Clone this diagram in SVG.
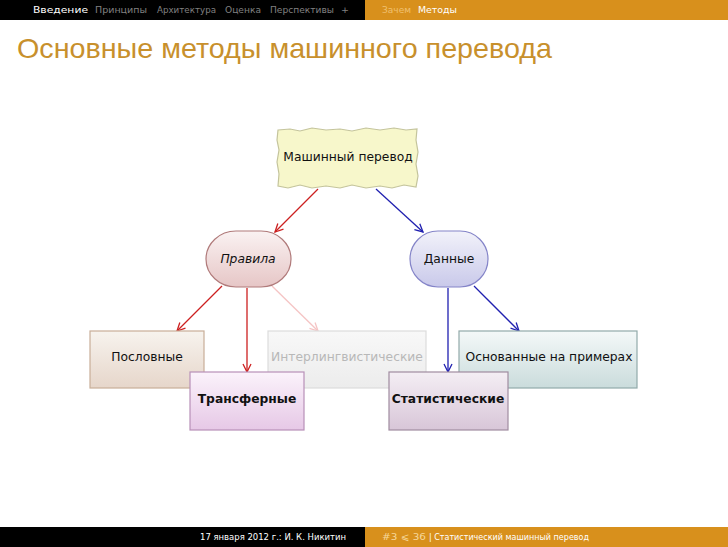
<svg xmlns="http://www.w3.org/2000/svg" width="728" height="547" viewBox="0 0 728 547">
<defs>
<style>
.hd{font-family:"DejaVu Sans","Liberation Sans",sans-serif;font-size:9.5px}
.lbl{font-family:"DejaVu Sans","Liberation Sans",sans-serif;font-size:12.3px;fill:#111;text-anchor:middle}
.b{font-weight:bold}
.red{stroke:#CC2020;fill:none;stroke-width:1.3}
.blue{stroke:#2020B0;fill:none;stroke-width:1.3}
.pale{stroke:#F5C4C4;fill:none;stroke-width:1.3}
</style>
<linearGradient id="gPr" x1="0" y1="0" x2="0" y2="1"><stop offset="0" stop-color="#FAF2F2"/><stop offset="1" stop-color="#E6C6C6"/></linearGradient>
<linearGradient id="gDa" x1="0" y1="0" x2="0" y2="1"><stop offset="0" stop-color="#F2F2FA"/><stop offset="1" stop-color="#C9C9EA"/></linearGradient>
<linearGradient id="gPo" x1="0" y1="0" x2="0" y2="1"><stop offset="0" stop-color="#F7F3EE"/><stop offset="1" stop-color="#E6D6CA"/></linearGradient>
<linearGradient id="gIn" x1="0" y1="0" x2="0" y2="1"><stop offset="0" stop-color="#F8F8F8"/><stop offset="1" stop-color="#ECECEC"/></linearGradient>
<linearGradient id="gOs" x1="0" y1="0" x2="0" y2="1"><stop offset="0" stop-color="#F4F8F8"/><stop offset="1" stop-color="#CADCDC"/></linearGradient>
<linearGradient id="gTr" x1="0" y1="0" x2="0" y2="1"><stop offset="0" stop-color="#FBF3FB"/><stop offset="1" stop-color="#E6C8E6"/></linearGradient>
<linearGradient id="gSt" x1="0" y1="0" x2="0" y2="1"><stop offset="0" stop-color="#F4EEF4"/><stop offset="1" stop-color="#D8C6D8"/></linearGradient>
<marker id="aR" markerWidth="10" markerHeight="10" refX="9" refY="5" orient="auto" markerUnits="userSpaceOnUse"><path d="M1,1 L9,5 L1,9" fill="none" stroke="#CC2020" stroke-width="1.3"/></marker>
<marker id="aB" markerWidth="10" markerHeight="10" refX="9" refY="5" orient="auto" markerUnits="userSpaceOnUse"><path d="M1,1 L9,5 L1,9" fill="none" stroke="#2020B0" stroke-width="1.3"/></marker>
<marker id="aP" markerWidth="10" markerHeight="10" refX="9" refY="5" orient="auto" markerUnits="userSpaceOnUse"><path d="M1,1 L9,5 L1,9" fill="none" stroke="#F5C4C4" stroke-width="1.3"/></marker>
</defs>
<rect width="728" height="547" fill="#FFFFFF"/>
<g id="header">
<rect x="0" y="0" width="365" height="20" fill="#000"/>
<rect x="365" y="0" width="363" height="20" fill="#D8901C"/>
<text class="hd" x="33" y="13" fill="#FFF" textLength="55" lengthAdjust="spacingAndGlyphs">Введение</text>
<text class="hd" x="95" y="13" fill="#808080" textLength="52" lengthAdjust="spacingAndGlyphs">Принципы</text>
<text class="hd" x="157" y="13" fill="#808080" textLength="59" lengthAdjust="spacingAndGlyphs">Архитектура</text>
<text class="hd" x="225" y="13" fill="#808080" textLength="36" lengthAdjust="spacingAndGlyphs">Оценка</text>
<text class="hd" x="270" y="13" fill="#808080" textLength="64" lengthAdjust="spacingAndGlyphs">Перспективы</text>
<text class="hd" x="341" y="13" fill="#808080">+</text>
<text class="hd" x="382" y="13" fill="#F0C070" textLength="29" lengthAdjust="spacingAndGlyphs">Зачем</text>
<text class="hd" x="418" y="13" fill="#FFF" textLength="39" lengthAdjust="spacingAndGlyphs">Методы</text>
</g>
<text x="17" y="58" font-family="Liberation Sans,Arial,sans-serif" font-size="27.5" fill="#C8902C" textLength="535" lengthAdjust="spacingAndGlyphs">Основные методы машинного перевода</text>
<g id="connectors">
<line class="red" x1="318" y1="189" x2="275" y2="232" marker-end="url(#aR)"/>
<line class="blue" x1="376" y1="189" x2="423" y2="232" marker-end="url(#aB)"/>
<line class="red" x1="222" y1="286" x2="177" y2="331" marker-end="url(#aR)"/>
<line class="red" x1="247" y1="288" x2="247" y2="372" marker-end="url(#aR)"/>
<line class="pale" x1="272" y1="286" x2="318" y2="331" marker-end="url(#aP)"/>
<line class="blue" x1="448" y1="288" x2="448" y2="372" marker-end="url(#aB)"/>
<line class="blue" x1="474" y1="286" x2="519" y2="331" marker-end="url(#aB)"/>
</g>
<g id="n-mashinny">
<path d="M278,130 L290,129 L300,131 L312,128 L326,130 L340,129 L352,131 L366,128 L380,130 L394,128 L406,130 L417,129 L416,140 L418,152 L416,164 L418,176 L416,187 L404,185 L392,188 L380,186 L366,188 L352,185 L340,188 L326,186 L312,188 L300,185 L288,188 L278,186 L279,174 L277,162 L279,150 L277,140 Z" fill="#F7F7CB" stroke="#C4C49C" stroke-width="1.2"/>
<text class="lbl" x="348" y="161">Машинный перевод</text>
</g>
<g id="n-pravila">
<rect x="206" y="231" width="85" height="56" rx="30" ry="28" fill="url(#gPr)" stroke="#B07A7A" stroke-width="1.2"/>
<text class="lbl" x="248" y="263" font-style="italic">Правила</text>
</g>
<g id="n-dannye">
<rect x="410" y="231" width="78" height="56" rx="28" ry="28" fill="url(#gDa)" stroke="#8484C8" stroke-width="1.2"/>
<text class="lbl" x="449" y="263">Данные</text>
</g>
<g id="n-poslovnye">
<rect x="90" y="331" width="114" height="57" fill="url(#gPo)" stroke="#C8AE98" stroke-width="1.2"/>
<text class="lbl" x="147" y="361">Пословные</text>
</g>
<g id="n-interling">
<rect x="268" y="331" width="158" height="57" fill="url(#gIn)" stroke="#DCDCDC" stroke-width="1.2"/>
<text class="lbl" x="347" y="361" style="fill:#B8B8B8">Интерлингвистические</text>
</g>
<g id="n-osnovannye">
<rect x="459" y="331" width="178" height="57" fill="url(#gOs)" stroke="#92AAAA" stroke-width="1.2"/>
<text class="lbl" x="549" y="361">Основанные на примерах</text>
</g>
<g id="n-transfer">
<rect x="190" y="372" width="114" height="58" fill="url(#gTr)" stroke="#B890B8" stroke-width="1.2"/>
<text class="lbl b" x="247" y="403">Трансферные</text>
</g>
<g id="n-statist">
<rect x="389" y="372" width="119" height="58" fill="url(#gSt)" stroke="#A08CA0" stroke-width="1.2"/>
<text class="lbl b" x="448" y="403">Статистические</text>
</g>
<g id="footer">
<rect x="0" y="527" width="365" height="20" fill="#000"/>
<rect x="365" y="527" width="363" height="20" fill="#D8901C"/>
<text class="hd" x="200" y="540" fill="#FFF" textLength="146" lengthAdjust="spacingAndGlyphs">17 января 2012 г.: И. К. Никитин</text>
<text class="hd" x="382" y="540" fill="#F6D79A" textLength="44" lengthAdjust="spacingAndGlyphs">#3 ⩽ 36</text>
<text class="hd" x="429" y="540" fill="#FFF" textLength="160" lengthAdjust="spacingAndGlyphs">| Статистический машинный перевод</text>
</g>
</svg>
